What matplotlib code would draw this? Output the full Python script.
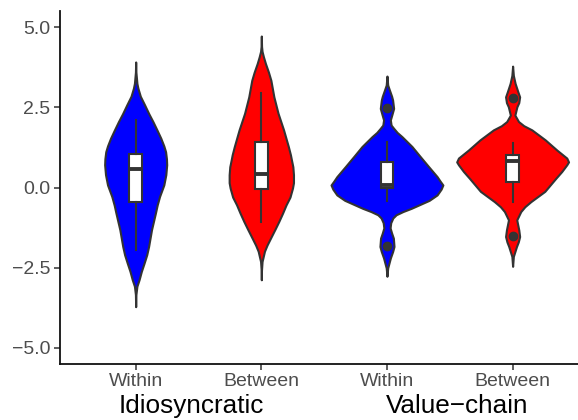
import numpy as np
import matplotlib
matplotlib.use("Agg")
import matplotlib.pyplot as plt
import matplotlib.transforms as mtransforms

plt.rcParams["font.family"] = ["Liberation Sans", "DejaVu Sans"]

# categories along x
conditions = ["Within", "Between", "Within", "Between"]
groups = ["Idiosyncratic", "Value\u2212chain"]
fills = ["#0000FF", "#FF0000", "#0000FF", "#FF0000"]

# violin outlines: y value and half-width (category units)
v1_y = [3.92, 3.60, 3.25, 3.10, 2.85, 2.58, 2.30, 2.06, 1.80, 1.54, 1.30, 1.12, 0.90, 0.71,
        0.40, 0.08, -0.28, -0.55, -0.80, -1.32, -1.84, -2.10, -2.36, -2.62, -2.88, -3.08,
        -3.34, -3.72]
v1_w = [0, 0.002, 0.010, 0.018, 0.037, 0.071, 0.105, 0.137, 0.169, 0.200, 0.224, 0.238,
        0.245, 0.247, 0.240, 0.224, 0.190, 0.171, 0.157, 0.126, 0.103, 0.088, 0.067, 0.045,
        0.027, 0.010, 0.002, 0]

v2_y = [4.73, 4.40, 4.25, 4.08, 3.87, 3.60, 3.35, 2.83, 2.32, 1.80, 1.28, 1.02, 0.86, 0.65,
        0.40, 0.15, -0.02, -0.30, -0.54, -0.80, -1.06, -1.30, -1.58, -1.80, -1.99, -2.31,
        -2.60, -2.88]
v2_w = [0, 0.002, 0.006, 0.017, 0.033, 0.057, 0.076, 0.100, 0.133, 0.177, 0.215, 0.232,
        0.240, 0.251, 0.256, 0.256, 0.248, 0.228, 0.197, 0.169, 0.139, 0.109, 0.073, 0.045,
        0.025, 0.006, 0.001, 0]

v3_y = [3.48, 3.20, 3.04, 2.85, 2.73, 2.47, 2.30, 2.11, 1.95, 1.85, 1.72, 1.59, 1.28, 0.97,
        0.65, 0.34, 0.20, 0.08, -0.05, -0.23, -0.40, -0.54, -0.65, -0.75, -0.85, -0.95,
        -1.10, -1.26, -1.42, -1.58, -1.84, -2.00, -2.20, -2.51, -2.77]
v3_w = [0, 0.006, 0.020, 0.037, 0.045, 0.053, 0.041, 0.027, 0.033, 0.053, 0.081, 0.119,
        0.199, 0.264, 0.332, 0.399, 0.423, 0.445, 0.431, 0.399, 0.336, 0.256, 0.193, 0.127,
        0.073, 0.047, 0.030, 0.025, 0.037, 0.051, 0.056, 0.045, 0.027, 0.006, 0]

v4_y = [3.79, 3.50, 3.25, 3.00, 2.83, 2.65, 2.52, 2.26, 2.06, 1.93, 1.80, 1.49, 1.17, 0.92,
        0.80, 0.71, 0.50, 0.29, -0.12, -0.44, -0.60, -0.75, -1.01, -1.32, -1.53, -1.70,
        -1.84, -2.15, -2.46]
v4_w = [0, 0.006, 0.020, 0.041, 0.056, 0.049, 0.034, 0.018, 0.047, 0.089, 0.153, 0.259,
        0.352, 0.431, 0.445, 0.431, 0.391, 0.344, 0.256, 0.145, 0.097, 0.065, 0.033, 0.049,
        0.056, 0.045, 0.031, 0.006, 0]

# box plot summaries
whis_lo = [-1.94, -1.09, -0.41, -0.44]
q1 = [-0.45, -0.04, -0.02, 0.17]
median = [0.58, 0.43, 0.08, 0.84]
q3 = [1.04, 1.43, 0.81, 1.02]
whis_hi = [2.11, 2.94, 1.43, 1.38]
outliers = [[], [], [2.49, -1.81], [2.79, -1.50]]

profiles = [(v1_y, v1_w), (v2_y, v2_w), (v3_y, v3_w), (v4_y, v4_w)]
DARK = "#333333"

fig = plt.figure(figsize=(5.78, 4.2), dpi=100)
ax = fig.add_axes([0.1043, 0.134, 0.913, 0.839])

positions = np.arange(1, len(conditions) + 1)
for pos, (vy, vw), col in zip(positions, profiles, fills):
    vy = np.array(vy)
    vw = np.array(vw)
    ax.fill_betweenx(vy, pos - vw, pos + vw, facecolor=col, edgecolor=DARK,
                     linewidth=1.5, zorder=2)

stats = [dict(med=m, q1=a, q3=b, whislo=lo, whishi=hi, fliers=f)
         for m, a, b, lo, hi, f in zip(median, q1, q3, whis_lo, whis_hi, outliers)]
ax.bxp(stats, positions=positions, widths=0.1, patch_artist=True, showcaps=False,
       boxprops=dict(facecolor="white", edgecolor=DARK, linewidth=1.5),
       whiskerprops=dict(color=DARK, linewidth=1.5),
       medianprops=dict(color=DARK, linewidth=2.8),
       flierprops=dict(marker="o", markerfacecolor=DARK, markeredgecolor=DARK,
                       markersize=6),
       zorder=3)

ax.set_xlim(0.4, 4.6)
ax.set_ylim(-5.5, 5.5)
ax.set_yticks([-5.0, -2.5, 0.0, 2.5, 5.0])
ax.set_yticklabels([f"{v:.1f}".replace("-", "\u2212") for v in [-5.0, -2.5, 0.0, 2.5, 5.0]])
ax.set_xticks(positions)
ax.set_xticklabels(conditions)

for s in ("top", "right"):
    ax.spines[s].set_visible(False)
for s in ("left", "bottom"):
    ax.spines[s].set_linewidth(1.3)
    ax.spines[s].set_color("#111111")
ax.tick_params(axis="both", length=4, width=1.1, color=DARK, labelcolor="#4D4D4D",
               labelsize=14)
ax.tick_params(axis="y", pad=3)
ax.tick_params(axis="x", pad=3)

# group labels under the pairs
trans = mtransforms.blended_transform_factory(ax.transData, fig.transFigure)
for xg, g in zip([1.445, 3.56], groups):
    ax.text(xg, 0.005, g, transform=trans, ha="center", va="bottom", fontsize=18.8,
            color="black")

fig.savefig("out.png", dpi=100)
